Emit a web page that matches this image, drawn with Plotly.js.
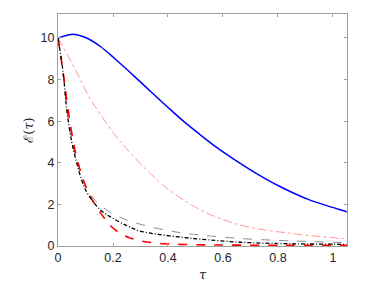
<!DOCTYPE html>
<html>
<head>
<meta charset="utf-8">
<script src="https://cdn.plot.ly/plotly-3.0.1.min.js"></script>
<style>html,body{margin:0;padding:0;background:#fff;}#plot{width:386px;height:290px;}</style>
</head>
<body>
<div id="plot"></div>
<script>
// Blue solid curve
const tauBlue = [0, 0.03, 0.062, 0.1, 0.153, 0.207, 0.274, 0.335, 0.395, 0.456, 0.516, 0.577, 0.65, 0.73, 0.807, 0.91, 1.05];
const eBlue   = [10, 10.12, 10.17, 10.02, 9.6, 9.0, 8.2, 7.45, 6.72, 6.0, 5.36, 4.74, 4.08, 3.42, 2.86, 2.24, 1.65];

// Light red thin dash-dot curve
const tauPink = [0, 0.062, 0.116, 0.153, 0.207, 0.244, 0.3, 0.38, 0.456, 0.516, 0.565, 0.662, 0.75, 0.844, 0.93, 1.025, 1.05];
const ePink   = [10, 8.5, 7.1, 6.35, 5.34, 4.75, 3.95, 2.95, 2.21, 1.75, 1.45, 1.01, 0.78, 0.61, 0.48, 0.37, 0.35];

// Gray dashed curve
const tauGray = [0, 0.019, 0.032, 0.05, 0.068, 0.098, 0.128, 0.16, 0.2, 0.25, 0.298, 0.37, 0.45, 0.516, 0.662, 0.8, 0.9, 1.05];
const eGray   = [10, 8.3, 6.6, 5.1, 4.15, 3.0, 2.3, 1.9, 1.55, 1.25, 1.05, 0.82, 0.63, 0.53, 0.36, 0.27, 0.22, 0.16];

// Black dash-dot curve
const tauBlack = [0, 0.019, 0.032, 0.05, 0.068, 0.086, 0.104, 0.128, 0.153, 0.189, 0.25, 0.298, 0.37, 0.45, 0.516, 0.662, 0.8, 0.9, 1.05];
const eBlack   = [10, 8.3, 6.54, 5.0, 4.0, 3.17, 2.6, 2.13, 1.75, 1.41, 0.98, 0.72, 0.55, 0.42, 0.33, 0.18, 0.12, 0.1, 0.08];

// Red dashed curve
const tauRed = [0, 0.02, 0.037, 0.062, 0.092, 0.11, 0.128, 0.14, 0.165, 0.19, 0.225, 0.26, 0.3, 0.35, 0.4, 0.5, 0.6, 0.8, 1.05];
const eRed   = [10, 8.2, 6.54, 4.6, 3.17, 2.6, 2.13, 1.9, 1.4, 0.98, 0.62, 0.4, 0.25, 0.15, 0.1, 0.06, 0.045, 0.035, 0.03];

const xTicks = [0, 0.2, 0.4, 0.6, 0.8, 1];
const xTickText = ['0', '0.2', '0.4', '0.6', '0.8', '1'];
const yTicks = [0, 2, 4, 6, 8, 10];

const traces = [
  {x: tauPink, y: ePink, mode: 'lines', line: {color: '#ff8c8c', width: 0.9, dash: 'dashdot', shape: 'spline'}},
  {x: tauGray, y: eGray, mode: 'lines', line: {color: '#8c8c8c', width: 1, dash: 'dash', shape: 'spline'}},
  {x: tauRed, y: eRed, mode: 'lines', line: {color: '#ff0000', width: 1.6, dash: 'dash', shape: 'spline'}},
  {x: tauBlack, y: eBlack, mode: 'lines', line: {color: '#000000', width: 1.3, dash: '4px,2px,1px,2px', shape: 'spline'}},
  {x: tauBlue, y: eBlue, mode: 'lines', line: {color: '#0000ff', width: 1.5, shape: 'spline'}}
];

const axisCommon = {
  showline: true, mirror: 'ticks', linecolor: '#a0a0a0', linewidth: 1,
  ticks: 'inside', ticklen: 3, tickcolor: '#a0a0a0', tickwidth: 1,
  showgrid: false, zeroline: false,
  tickfont: {family: 'Liberation Sans, Arial, sans-serif', size: 12.5, color: '#262626'},
  automargin: true
};

const layout = {
  width: 386, height: 290,
  margin: {l: 58, r: 39, t: 14, b: 44},
  paper_bgcolor: '#ffffff', plot_bgcolor: '#ffffff',
  showlegend: false,
  xaxis: Object.assign({}, axisCommon, {
    range: [0, 1.051], tickvals: xTicks, ticktext: xTickText,
    title: {text: '<i>τ</i>', font: {family: 'DejaVu Serif, serif', size: 13, color: '#262626'}, standoff: 5}
  }),
  yaxis: Object.assign({}, axisCommon, {
    range: [0, 11.15], tickvals: yTicks,
    title: {text: 'ℰ(<i>τ</i>)', font: {family: 'DejaVu Serif, serif', size: 13, color: '#262626'}, standoff: 4}
  })
};

Plotly.newPlot('plot', traces, layout, {staticPlot: true, displayModeBar: false});
</script>
</body>
</html>
